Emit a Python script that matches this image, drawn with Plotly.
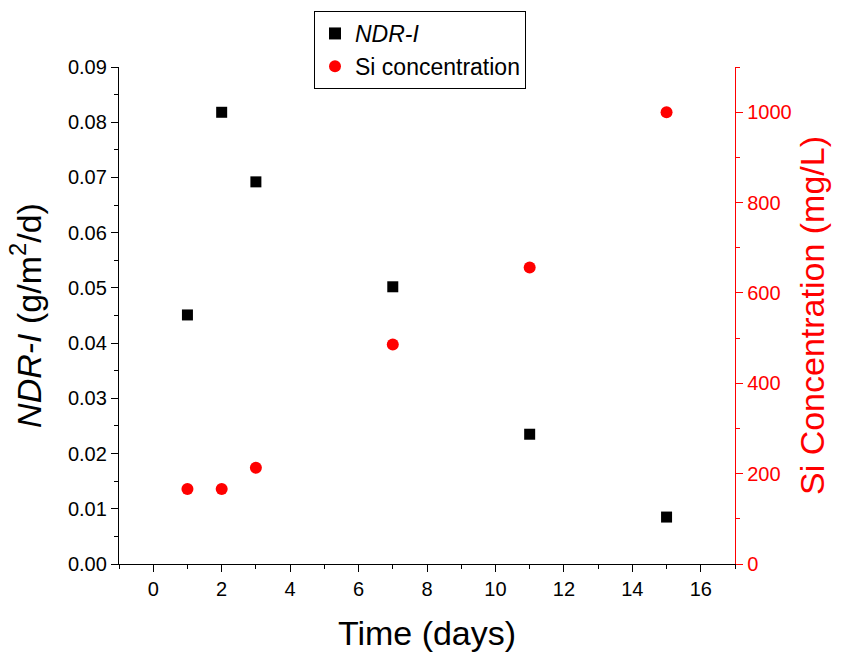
import plotly.graph_objects as go

days = [1, 2, 3, 7, 11, 15]
ndr_i = [0.0451, 0.0818, 0.0692, 0.0502, 0.0235, 0.0085]
si_conc = [166, 166, 213, 486, 656, 1000]

x_ticks = list(range(0, 17, 2))
y_ticks = [round(0.01 * i, 2) for i in range(10)]
y2_ticks = list(range(0, 1001, 200))

FONT = "Liberation Sans, Arial, sans-serif"

fig = go.Figure()
fig.add_trace(go.Scatter(
    x=days, y=ndr_i, mode="markers", name="<i>NDR-I</i>",
    marker=dict(symbol="square", size=11, color="black"),
))
fig.add_trace(go.Scatter(
    x=days, y=si_conc, mode="markers", name="Si concentration",
    marker=dict(symbol="circle", size=12, color="#ff0000"), yaxis="y2",
))

fig.update_layout(
    width=842, height=654,
    margin=dict(l=119, r=107, t=67, b=90, autoexpand=False),
    paper_bgcolor="white", plot_bgcolor="white",
    font=dict(family=FONT, color="black", size=20),
    showlegend=True,
    legend=dict(
        x=(314 - 119) / 616, y=(564 - 11) / 497,
        xanchor="left", yanchor="top",
        bordercolor="black", borderwidth=1, bgcolor="white",
        font=dict(family=FONT, size=23, color="black"),
        itemsizing="constant", tracegroupgap=0, itemwidth=30,
    ),
    xaxis=dict(
        range=[-1, 17], tickvals=x_ticks, ticks="outside", ticklen=7, tickwidth=1.3,
        tickcolor="black", showline=True, linecolor="black", linewidth=1.3,
        showgrid=False, zeroline=False, tickangle=0,
        minor=dict(dtick=1, ticks="outside", ticklen=4, tickcolor="black", tickwidth=1.3),
        title=dict(text="Time (days)", font=dict(size=34, family=FONT), standoff=22),
        tickfont=dict(size=20),
    ),
    yaxis=dict(
        range=[0, 0.09], tickvals=y_ticks, tickformat=".2f", ticks="outside", ticklen=7,
        tickwidth=1.3, tickcolor="black", showline=True, linecolor="black", linewidth=1.3,
        showgrid=False, zeroline=False,
        minor=dict(dtick=0.005, tick0=0, ticks="outside", ticklen=4, tickcolor="black", tickwidth=1.3),
        title=dict(text="<i>NDR-I</i> (g/m<sup>2</sup>/d)", font=dict(size=34, family=FONT), standoff=16),
        tickfont=dict(size=20),
    ),
    yaxis2=dict(
        overlaying="y", side="right", range=[0, 1100], tickvals=y2_ticks,
        ticks="outside", ticklen=7, tickwidth=1.3, tickcolor="#ff0000",
        showline=True, linecolor="#ff0000", linewidth=1.3, showgrid=False, zeroline=False,
        minor=dict(dtick=100, tick0=0, ticks="outside", ticklen=4, tickcolor="#ff0000", tickwidth=1.3),
        title=dict(text="Si Concentration (mg/L)", font=dict(size=34, family=FONT, color="#ff0000"), standoff=9),
        tickfont=dict(size=20, color="#ff0000"),
    ),
)

fig.write_html("out.html")
